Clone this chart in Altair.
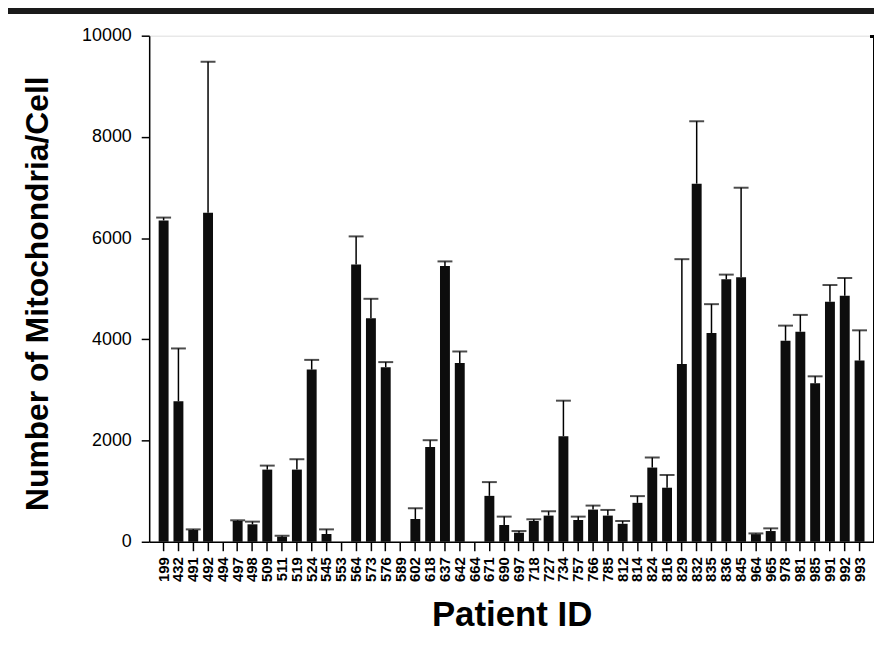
import altair as alt
import pandas as pd

patients = ["199", "432", "491", "492", "494", "497", "498", "509", "511", "519",
            "524", "545", "553", "564", "573", "576", "589", "602", "618", "637",
            "642", "664", "671", "690", "697", "718", "727", "734", "757", "766",
            "785", "812", "814", "824", "816", "829", "832", "835", "836", "845",
            "964", "965", "978", "981", "985", "991", "992", "993"]

means = [6350, 2775, 232, 6500, 0, 411, 345, 1426, 99, 1426,
         3402, 153, 0, 5477, 4416, 3450, 0, 450, 1874, 5450,
         3530, 0, 907, 331, 179, 411, 517, 2086, 430, 636,
         517, 355, 769, 1466, 1068, 3515, 7076, 4125, 5186, 5225,
         150, 212, 3972, 4151, 3130, 4741, 4861, 3581]

upper = [6406, 3820, 245, 9483, None, 424, 398, 1505, 119, 1631,
         3594, 245, None, 6034, 4801, 3550, None, 662, 2007, 5540,
         3760, None, 1179, 497, 212, 444, 603, 2788, 497, 715,
         629, 410, 902, 1664, 1320, 5584, 8309, 4695, 5279, 6996,
         165, 265, 4271, 4483, 3269, 5073, 5212, 4178]

y_ticks = [0, 2000, 4000, 6000, 8000, 10000]

df = pd.DataFrame({"patient": patients, "mean": means, "upper": upper})

W, H = 729, 509
FONT = "Liberation Sans"

xenc = alt.X("patient:N", sort=patients,
             scale=alt.Scale(paddingInner=0.33, paddingOuter=0.64),
             axis=alt.Axis(title="Patient ID", labelAngle=-90, labelFontSize=15,
                           labelFontWeight="bold", labelFont=FONT, labelColor="black",
                           labelPadding=6, tickSize=9, tickColor="black", tickWidth=1.5,
                           domainColor="black", domainWidth=1.5,
                           titleFont=FONT, titleFontSize=35, titleFontWeight="bold",
                           titleColor="black", titleY=84, titleBaseline="alphabetic"))

yenc = alt.Y("mean:Q", scale=alt.Scale(domain=[0, 10000], nice=False),
             axis=alt.Axis(title="Number of Mitochondria/Cell", values=y_ticks, grid=False,
                           format="d",
                           labelFontSize=18, labelFont=FONT, labelColor="black",
                           labelPadding=10, tickSize=8, tickColor="black", tickWidth=1.5,
                           domainColor="black", domainWidth=1.5,
                           titleFont=FONT, titleFontSize=32, titleFontWeight="bold",
                           titleColor="black", titleX=-102, titleY=259,
                           titleBaseline="alphabetic"))

base = alt.Chart(df)

bars = base.mark_bar(color="#0d0d0d").encode(x=xenc, y=yenc)

err_line = base.transform_filter("isValid(datum.upper)").mark_rule(
    color="black", strokeWidth=1.5).encode(
    x=alt.X("patient:N", sort=patients), y="mean:Q", y2="upper:Q")

err_cap = base.transform_filter("isValid(datum.upper)").mark_tick(
    color="black", size=15, thickness=2).encode(
    x=alt.X("patient:N", sort=patients), y="upper:Q")

right_line = alt.Chart(df).mark_rule(color="black", strokeWidth=1.5).encode(
    x=alt.value(W), y=alt.value(0), y2=alt.value(H))

right_hook = alt.Chart(df).mark_rule(color="black", strokeWidth=1.5).encode(
    x=alt.value(W - 4), x2=alt.value(W), y=alt.value(1))

top_band = alt.Chart(df).mark_rect(color="#1a1a1a").encode(
    x=alt.value(-142), x2=alt.value(W + 10), y=alt.value(-28), y2=alt.value(-22))

chart = alt.layer(bars, err_line, err_cap, right_line, right_hook, top_band).properties(
    width=W, height=H,
    autosize=alt.AutoSizeParams(type="none"),
    padding={"left": 142, "top": 26, "right": 0, "bottom": 106},
).configure_view(stroke=None).configure(background="white")

chart.save("out.html", embed_options={"renderer": "svg", "actions": False})
